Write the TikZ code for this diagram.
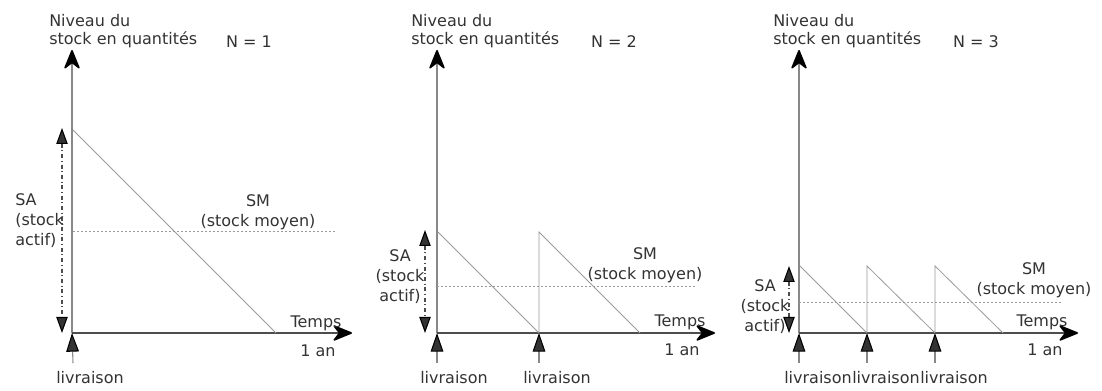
\documentclass[tikz,border=0pt]{standalone}
\usepackage{fontspec}
\setmainfont{DejaVu Sans}
\usetikzlibrary{arrows.meta}

\definecolor{txtgray}{HTML}{333333}
\definecolor{axgray}{HTML}{888888}
\definecolor{axdark}{HTML}{4D4D4D}
\definecolor{linegray}{HTML}{9A9A9A}

\begin{document}
\begin{tikzpicture}[
    x=0.75pt, y=-0.75pt,
    yax/.style={line width=1.1pt, axgray,
        -{Stealth[length=16pt, width=13pt, inset=5pt, round, line width=1.2pt, color=black]}},
    xax/.style={line width=1.1pt, axdark,
        -{Stealth[length=16pt, width=13pt, inset=5pt, round, line width=1.2pt, color=black]}},
    tooth/.style={line width=0.6pt, linegray},
    moy/.style={line width=0.6pt, linegray, dash pattern=on 1.5pt off 1.5pt},
    sa/.style={line width=0.8pt, axdark, dash dot,
        {Triangle[length=12pt, width=8.5pt, line width=0.8pt, color=black, fill=txtgray]}-{Triangle[length=12pt, width=8.5pt, line width=0.8pt, color=black, fill=txtgray]}},
    liv/.style={line width=0.8pt, axgray,
        -{Triangle[length=14pt, width=9.5pt, line width=0.8pt, color=black, fill=txtgray]}},
    lbl/.style={font=\fontsize{12}{15}\selectfont, text=txtgray, inner sep=0pt},
    head/.style={lbl, font=\fontsize{12}{13.5}\selectfont, align=left, anchor=base west},
]
\useasboundingbox (0,0) rectangle (1102,391);

% === Panel 1: N = 1 ===
\coordinate (o1) at (72,333);
\coordinate (y1) at (72,50);
\coordinate (x1) at (352,333);
\draw[yax] (o1) -- (y1);
\draw[xax] (o1) -- (x1);
% one delivery, stock falls to zero at the end of the year
\coordinate (t1a) at (73,130);
\coordinate (t1b) at (276,333);
\draw[tooth] (t1a) -- (t1b);
\coordinate (m1a) at (73,231);
\coordinate (m1b) at (336,231);
\draw[moy] (m1a) -- (m1b);
\coordinate (sa1a) at (62,128);
\coordinate (sa1b) at (62,333);
\draw[sa] (sa1a) -- (sa1b);
\coordinate (l1a) at (73,363);
\draw[liv] (l1a) -- (o1);
% labels
\node[head] (niv1) at (49,45) {Niveau du\\stock en quantités};
\node[lbl, anchor=base] (n1) at (249,48) {N = 1};
\node[lbl, align=left, anchor=base west] (sat1) at (15,246) {SA\\(stock\\actif)};
\node[lbl, align=center, anchor=base] (sm1) at (258,227) {SM\\(stock moyen)};
\node[lbl, anchor=base] (tps1) at (316,328) {Temps};
\node[lbl, anchor=base] (an1) at (318,356) {1 an};
\node[lbl, anchor=base] (liv1) at (90,383) {livraison};

% === Panel 2: N = 2 ===
\coordinate (o2) at (437,333);
\coordinate (y2) at (437,50);
\coordinate (x2) at (715,333);
\draw[yax] (o2) -- (y2);
\draw[xax] (o2) -- (x2);
% two deliveries
\coordinate (t2a) at (438,232);
\coordinate (t2b) at (539,333);
\coordinate (t2c) at (539,232);
\coordinate (t2d) at (640,333);
\draw[tooth] (t2a) -- (t2b) -- (t2c) -- (t2d);
\coordinate (m2a) at (437,286);
\coordinate (m2b) at (697,286);
\draw[moy] (m2a) -- (m2b);
\coordinate (sa2a) at (425,230);
\coordinate (sa2b) at (425,333);
\draw[sa] (sa2a) -- (sa2b);
\coordinate (l2a) at (437,363);
\coordinate (l2b) at (539,363);
\draw[liv] (l2a) -- (o2);
\draw[liv] (l2b) -- (t2b);
% labels
\node[head] (niv2) at (411,45) {Niveau du\\stock en quantités};
\node[lbl, anchor=base] (n2) at (614,48) {N = 2};
\node[lbl, align=center, anchor=base] (sat2) at (400,302) {SA\\(stock\\actif)};
\node[lbl, align=center, anchor=base] (sm2) at (645,280) {SM\\(stock moyen)};
\node[lbl, anchor=base] (tps2) at (680,327) {Temps};
\node[lbl, anchor=base] (an2) at (682,355) {1 an};
\node[lbl, anchor=base] (liv2a) at (454,383) {livraison};
\node[lbl, anchor=base] (liv2b) at (557,383) {livraison};

% === Panel 3: N = 3 ===
\coordinate (o3) at (799,333);
\coordinate (y3) at (799,50);
\coordinate (x3) at (1078,333);
\draw[yax] (o3) -- (y3);
\draw[xax] (o3) -- (x3);
% three deliveries
\coordinate (t3a) at (800,266);
\coordinate (t3b) at (867,333);
\coordinate (t3c) at (867,266);
\coordinate (t3d) at (935,333);
\coordinate (t3e) at (935,266);
\coordinate (t3f) at (1003,333);
\draw[tooth] (t3a) -- (t3b) -- (t3c) -- (t3d) -- (t3e) -- (t3f);
\coordinate (m3a) at (799,302);
\coordinate (m3b) at (1062,302);
\draw[moy] (m3a) -- (m3b);
\coordinate (sa3a) at (789,266);
\coordinate (sa3b) at (789,333);
\draw[sa] (sa3a) -- (sa3b);
\coordinate (l3a) at (799,363);
\coordinate (l3b) at (867,363);
\coordinate (l3c) at (935,363);
\draw[liv] (l3a) -- (o3);
\draw[liv] (l3b) -- (t3b);
\draw[liv] (l3c) -- (t3d);
% labels
\node[head] (niv3) at (773,45) {Niveau du\\stock en quantités};
\node[lbl, anchor=base] (n3) at (976,48) {N = 3};
\node[lbl, align=center, anchor=base] (sat3) at (765,332) {SA\\(stock\\actif)};
\node[lbl, align=center, anchor=base] (sm3) at (1034,295) {SM\\(stock moyen)};
\node[lbl, anchor=base] (tps3) at (1042,327) {Temps};
\node[lbl, anchor=base] (an3) at (1045,355) {1 an};
\node[lbl, anchor=base] (liv3a) at (818,383) {livraison};
\node[lbl, anchor=base] (liv3b) at (886,383) {livraison};
\node[lbl, anchor=base] (liv3c) at (954,383) {livraison};

\end{tikzpicture}
\end{document}
